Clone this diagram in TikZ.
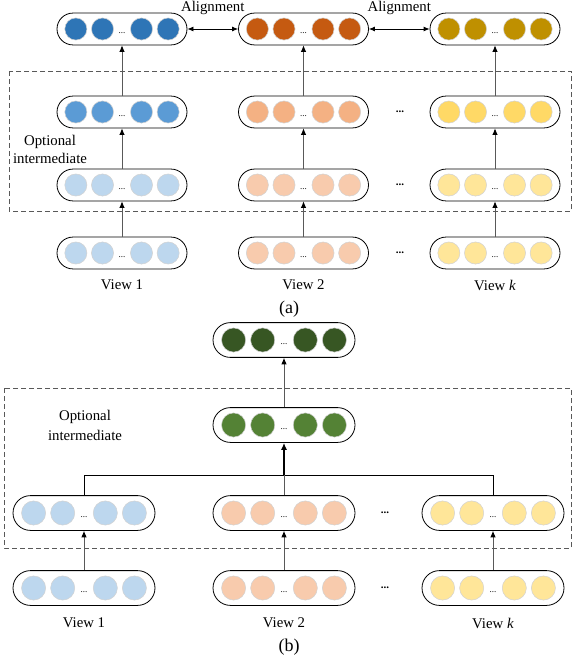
\documentclass[tikz,border=0pt]{standalone}
\usepackage{fontspec}
\setmainfont{Liberation Serif}
\usepackage{tikz}
\usetikzlibrary{positioning}
\usetikzlibrary{arrows.meta}
\usetikzlibrary{calc, shapes, backgrounds}

\definecolor{lineGray}{HTML}{595959}
\definecolor{blueDark}{HTML}{2E75B6}
\definecolor{blueMid}{HTML}{5B9BD5}
\definecolor{blueLight}{HTML}{BDD7EE}
\definecolor{orangeDark}{HTML}{C55A11}
\definecolor{orangeMid}{HTML}{F4B183}
\definecolor{orangeLight}{HTML}{F8CBAD}
\definecolor{goldDark}{HTML}{BF9000}
\definecolor{goldMid}{HTML}{FFD966}
\definecolor{goldLight}{HTML}{FFE699}
\definecolor{greenDark}{HTML}{375623}
\definecolor{greenMid}{HTML}{548235}

\tikzstyle{arrow} = [draw=lineGray, line width=0.9pt, -{Latex[length=6.5pt,width=5.5pt,color=black]}]
\tikzstyle{boldarrow} = [draw=black, line width=1.4pt, -{Latex[length=7pt,width=6pt]}]
\tikzstyle{alignarrow} = [draw=black, line width=0.8pt, {Latex[length=6pt,width=5pt]}-{Latex[length=6pt,width=5pt]}]
\tikzstyle{branch} = [draw=black, line width=0.8pt]
\tikzstyle{frame} = [draw=lineGray, line width=0.8pt, dash pattern=on 5pt off 3pt]

% one embedding: rounded box with four units and dots
\newcommand{\embbox}[5]{%
  \pgfmathsetmacro{\boxh}{0.245*#4}
  \pgfmathsetmacro{\boxr}{0.5*\boxh}
  \pgfmathsetmacro{\unitd}{0.17*#4}
  \node[embbox, minimum width=#4pt, minimum height=\boxh pt, rounded corners=\boxr pt] (#1) at (#2,#3) {};
  \foreach \i/\dx in {1/-0.355, 2/-0.15, 3/0.15, 4/0.355}
    \node[unit, fill=#5, minimum size=\unitd pt] (#1-\i) at ($(#1)+(\dx*#4,0)$) {};
  \node[indots] at ($(#1)+(0,4)$) {...};
}

\begin{document}
\begin{tikzpicture}[
    x = 1pt, y = -1pt,
    font = \fontsize{14.8}{18}\selectfont,
    embbox/.style = {draw = black, line width = 0.8pt, fill = white, inner sep = 0pt},
    unit/.style = {circle, draw = gray!35, line width = 0.5pt, inner sep = 0pt},
    indots/.style = {anchor = base, inner sep = 0pt, font = \fontsize{9}{9}\selectfont},
    gapdots/.style = {inner sep = 0pt, font = \bfseries\fontsize{11}{11}\selectfont},
    caption/.style = {font = \fontsize{18}{20}\selectfont}
  ]
  \useasboundingbox (0,0) rectangle (572,664);

  % (a) alignment of views
  \draw[frame] (9,71) rectangle (571,211);
  \embbox{aTop1}{122}{29}{130}{blueDark}
  \embbox{aTop2}{303.5}{29}{130}{orangeDark}
  \embbox{aTop3}{495}{29}{130}{goldDark}
  \embbox{aMid1}{122}{112}{130}{blueMid}
  \embbox{aMid2}{303.5}{112}{130}{orangeMid}
  \embbox{aMid3}{495}{112}{130}{goldMid}
  \embbox{aLow1}{122}{185}{130}{blueLight}
  \embbox{aLow2}{303.5}{185}{130}{orangeLight}
  \embbox{aLow3}{495}{185}{130}{goldLight}
  \embbox{aIn1}{122}{253}{130}{blueLight}
  \embbox{aIn2}{303.5}{253}{130}{orangeLight}
  \embbox{aIn3}{495}{253}{130}{goldLight}

  \node[gapdots] (gapA1) at (400,112) {...};
  \node[gapdots] (gapA2) at (400,185) {...};
  \node[gapdots] (gapA3) at (400,253) {...};

  \foreach \c in {1,2,3} {
    \draw[arrow] (aIn\c.north) -- (aLow\c.south);
    \draw[arrow] (aLow\c.north) -- (aMid\c.south);
    \draw[arrow] (aMid\c.north) -- (aTop\c.south);
  }
  \draw[alignarrow] (aTop1.east) -- node[anchor = base, yshift = 18pt] (alignA) {Alignment} (aTop2.west);
  \draw[alignarrow] (aTop2.east) -- node[anchor = base, yshift = 18pt] (alignB) {Alignment} (aTop3.west);

  \node[align = center] (optA) at (50,149) {Optional\\intermediate};
  \node (viewA1) at (122,285) {View 1};
  \node (viewA2) at (303.5,285) {View 2};
  \node (viewA3) at (495,285) {View \textit{k}};
  \node[caption] (capA) at (289,309) {(a)};

  % (b) fusion of views
  \draw[frame] (4,388) rectangle (571,548);
  \embbox{bOut}{284}{340}{142}{greenDark}
  \embbox{bMid}{284}{425}{142}{greenMid}
  \embbox{bLow1}{84}{513}{142}{blueLight}
  \embbox{bLow2}{284}{513}{142}{orangeLight}
  \embbox{bLow3}{493}{513}{142}{goldLight}
  \embbox{bIn1}{84}{588}{142}{blueLight}
  \embbox{bIn2}{284}{588}{142}{orangeLight}
  \embbox{bIn3}{493}{588}{142}{goldLight}

  \node[gapdots] (gapB1) at (385,513) {...};
  \node[gapdots] (gapB2) at (385,588) {...};

  \foreach \c in {1,2,3} {
    \draw[arrow] (bIn\c.north) -- (bLow\c.south);
  }
  \coordinate (bJoin) at (284,475);
  \draw[branch] (bLow1.north) |- (bJoin);
  \draw[branch] (bLow3.north) |- (bJoin);
  \draw[draw = lineGray, line width = 0.9pt] (bLow2.north) -- (bJoin);
  \draw[boldarrow] (bJoin) -- (bMid.south);
  \draw[arrow] (bMid.north) -- (bOut.south);

  \node[align = center, font = \fontsize{14.8}{20}\selectfont] (optB) at (85,425) {Optional\\intermediate};
  \node (viewB1) at (84,623) {View 1};
  \node (viewB2) at (284,623) {View 2};
  \node (viewB3) at (493,623) {View \textit{k}};
  \node[caption] (capB) at (289,647) {(b)};
\end{tikzpicture}
\end{document}
